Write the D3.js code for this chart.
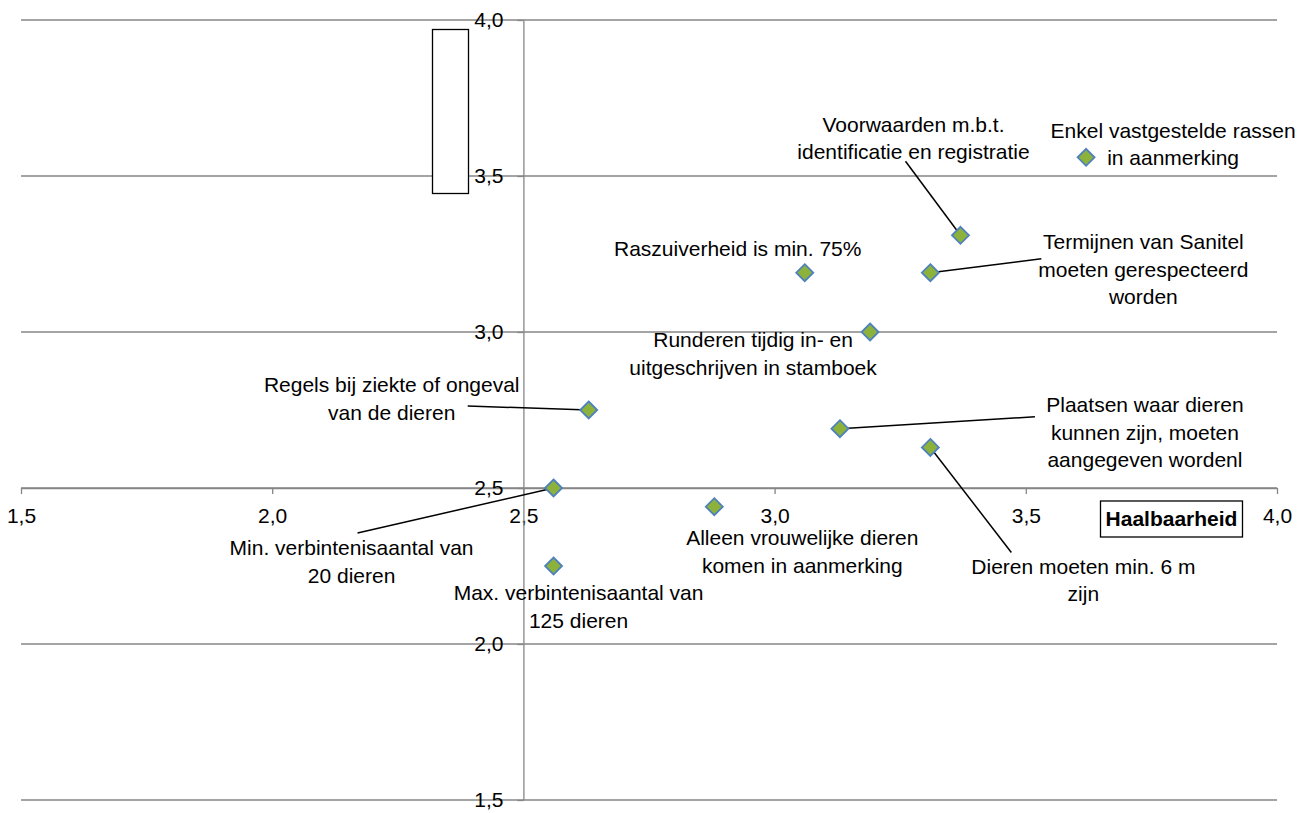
<!DOCTYPE html>
<html>
<head>
<meta charset="utf-8">
<script src="https://cdn.jsdelivr.net/npm/d3@7"></script>
<style>
  body { margin: 0; background: #fff; }
  svg { display: block; font-family: 'Liberation Sans', Arial, sans-serif; }
  .tick-label { font-size: 21px; fill: #000; }
  .point-label { font-size: 21px; fill: #000; }
</style>
</head>
<body>
<svg id="chart"></svg>
<script>
// Criteria (labels), with line breaks as in the chart
const criteria = [
  'Enkel vastgestelde rassen\nin aanmerking',
  'Voorwaarden m.b.t.\nidentificatie en registratie',
  'Termijnen van Sanitel\nmoeten gerespecteerd\nworden',
  'Raszuiverheid is min. 75%',
  'Runderen tijdig in- en\nuitgeschrijven in stamboek',
  'Regels bij ziekte of ongeval\nvan de dieren',
  'Plaatsen waar dieren\nkunnen zijn, moeten\naangegeven wordenl',
  'Dieren moeten min. 6 m\nzijn',
  'Min. verbintenisaantal van\n20 dieren',
  'Alleen vrouwelijke dieren\nkomen in aanmerking',
  'Max. verbintenisaantal van\n125 dieren',
];
const haalbaarheid = [3.62, 3.37, 3.31, 3.06, 3.19, 2.63, 3.13, 3.31, 2.56, 2.88, 2.56];
const score = [3.56, 3.31, 3.19, 3.19, 3.00, 2.75, 2.69, 2.63, 2.50, 2.44, 2.25];
const xTicks = [1.5, 2.0, 2.5, 3.0, 3.5, 4.0];
const yTicks = [1.5, 2.0, 2.5, 3.0, 3.5, 4.0];

// label placement (pixels from the point): first line centre, leader line start
const labelOffsets = [
  [87, -27], [-47, -111], [213, -31], [-67, -24], [-117, 8], [-197, -25],
  [305, -24], [153, 119], [-202, 60], [88, 31], [25, 27],
];
const leaderOffsets = [
  null, [-55, -74], [111, -14], null, null, [-121, -4],
  [195, -12], [81, 105], [-196, 45], null, null,
];

const width = 1315;
const height = 813;
const lineHeight = 27.5;
const gridColor = '#868686';

const svg = d3.select('#chart').attr('width', width).attr('height', height);

const x = d3.scaleLinear().domain([1.5, 4]).range([21, 1277]);
const y = d3.scaleLinear().domain([1.5, 4]).range([800, 20]);
const fmt = d3.formatLocale({ decimal: ',', thousands: '.', grouping: [3], currency: ['', ''] }).format('.1f');

const data = criteria.map((c, i) => ({
  label: c, hx: haalbaarheid[i], sy: score[i],
  lo: labelOffsets[i], ld: leaderOffsets[i],
}));

// Horizontal gridlines
svg.append('g')
  .selectAll('line')
  .data(yTicks)
  .enter().append('line')
    .attr('x1', x.range()[0])
    .attr('x2', x.range()[1])
    .attr('y1', d => y(d))
    .attr('y2', d => y(d))
    .attr('stroke', gridColor)
    .attr('stroke-width', 1.3);

// X axis, crossing at 2,5
const xAxis = svg.append('g')
  .attr('transform', `translate(0, ${y(2.5)})`)
  .call(d3.axisBottom(x).tickValues(xTicks).tickFormat(fmt).tickSize(6).tickSizeOuter(0));
xAxis.select('.domain').attr('stroke', gridColor).attr('stroke-width', 1.3);
xAxis.selectAll('.tick line').attr('stroke', gridColor).attr('stroke-width', 1.3);
xAxis.selectAll('.tick text')
  .attr('class', 'tick-label')
  .attr('y', 28)
  .attr('dy', '0.35em');
xAxis.attr('font-size', null).attr('font-family', null);

// Y axis, crossing at 2,5
const yAxis = svg.append('g')
  .attr('transform', `translate(${x(2.5)}, 0)`)
  .call(d3.axisLeft(y).tickValues(yTicks).tickFormat(fmt).tickSize(6).tickPadding(14).tickSizeOuter(0));
yAxis.select('.domain').attr('stroke', gridColor).attr('stroke-width', 1.3);
yAxis.selectAll('.tick line').attr('stroke', gridColor).attr('stroke-width', 1.3);
yAxis.selectAll('.tick text').attr('class', 'tick-label');
yAxis.attr('font-size', null).attr('font-family', null);

// Empty vertical axis title box
svg.append('rect')
  .attr('x', 432.5)
  .attr('y', 29.5)
  .attr('width', 36)
  .attr('height', 164)
  .attr('fill', '#fff')
  .attr('stroke', '#000')
  .attr('stroke-width', 1.3);

// Horizontal axis title
const titleG = svg.append('g')
  .attr('transform', `translate(${x(3.79)}, ${y(2.5) + 31})`);
titleG.append('rect')
  .attr('x', -71)
  .attr('y', -18)
  .attr('width', 142)
  .attr('height', 36)
  .attr('fill', '#fff')
  .attr('stroke', '#000')
  .attr('stroke-width', 1.3);
titleG.append('text')
  .attr('text-anchor', 'middle')
  .attr('dy', '0.35em')
  .attr('font-size', 21)
  .attr('font-weight', 'bold')
  .text('Haalbaarheid');

// Leader lines
svg.append('g')
  .selectAll('line')
  .data(data.filter(d => d.ld))
  .enter().append('line')
    .attr('x1', d => x(d.hx) + d.ld[0])
    .attr('y1', d => y(d.sy) + d.ld[1])
    .attr('x2', d => x(d.hx))
    .attr('y2', d => y(d.sy))
    .attr('stroke', '#000')
    .attr('stroke-width', 1.5);

// Markers
svg.append('g')
  .selectAll('path')
  .data(data)
  .enter().append('path')
    .attr('transform', d => `translate(${x(d.hx)}, ${y(d.sy)})`)
    .attr('d', 'M0,-8.5L8.5,0L0,8.5L-8.5,0Z')
    .attr('fill', '#8db23c')
    .attr('stroke', '#4f81bd')
    .attr('stroke-width', 1.8);

// Data labels
const labels = svg.append('g')
  .selectAll('text')
  .data(data)
  .enter().append('text')
    .attr('class', 'point-label')
    .attr('text-anchor', 'middle')
    .attr('transform', d => `translate(${x(d.hx) + d.lo[0]}, ${y(d.sy) + d.lo[1]})`);
labels.selectAll('tspan')
  .data(d => d.label.split('\n'))
  .enter().append('tspan')
    .attr('x', 0)
    .attr('y', (d, i) => i * lineHeight)
    .attr('dy', '0.35em')
    .text(d => d);
</script>
</body>
</html>
